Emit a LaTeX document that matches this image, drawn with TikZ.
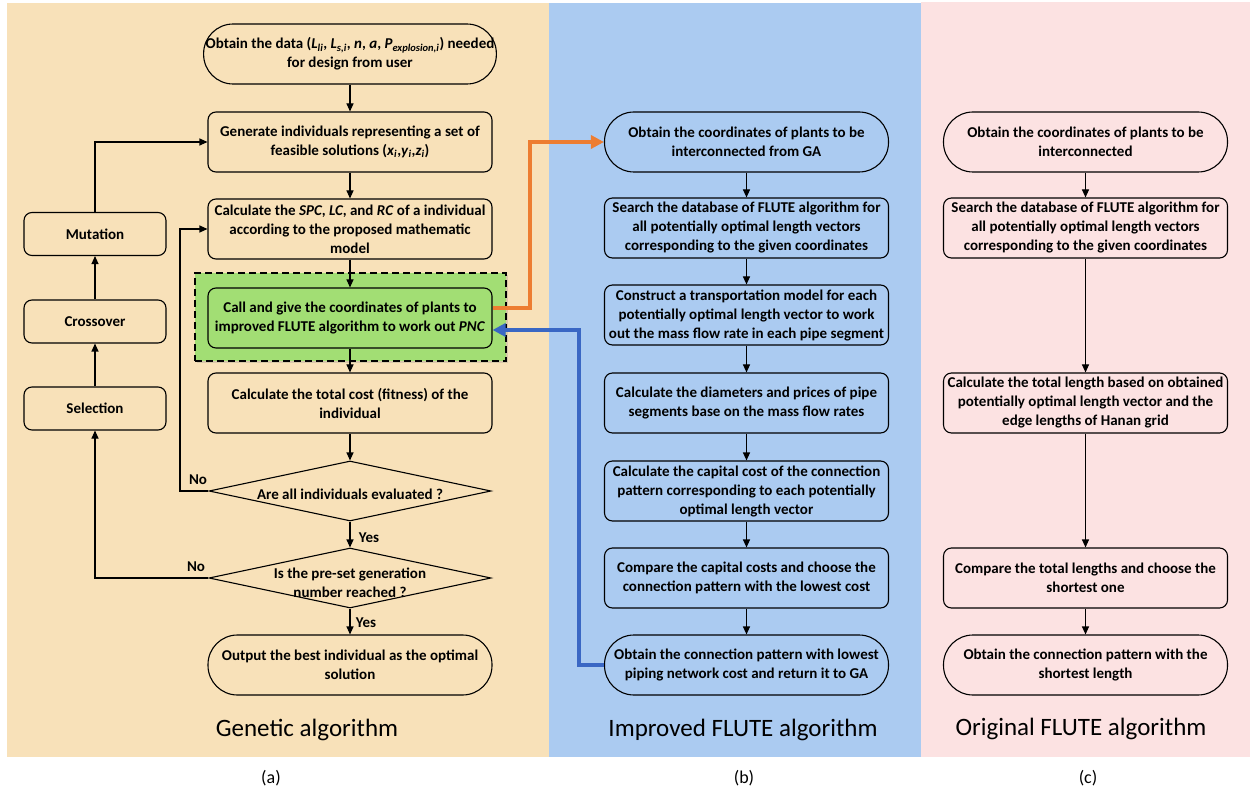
\documentclass[tikz,border=0pt]{standalone}
\usepackage{fontspec}
\setmainfont{Carlito}
\usetikzlibrary{arrows.meta,shapes.geometric,shadows}

\definecolor{gabg}{HTML}{F8E1B9}
\definecolor{impbg}{HTML}{ABCBF1}
\definecolor{orgbg}{HTML}{FCE2E2}
\definecolor{callgreen}{HTML}{A2DE74}
\definecolor{linkorange}{HTML}{ED7D31}
\definecolor{linkblue}{HTML}{3A67C4}

\newcommand\boxfont{\fontsize{15}{19}\selectfont\bfseries}
\newcommand\lowidx[1]{\textsubscript{\itshape #1}}

\tikzset{
  flow/.style={draw=black, line width=1.1pt, align=center, font=\boxfont, inner sep=2pt},
  stepbox/.style={flow, rectangle, rounded corners=8pt, minimum width=284pt, minimum height=60pt},
  termbox/.style={flow, rectangle, rounded corners=29.5pt, minimum width=284pt, minimum height=60pt},
  gabox/.style={flow, rectangle, rounded corners=8pt, minimum width=142pt, minimum height=43pt},
  test/.style={draw=black, line width=1.1pt, diamond, minimum width=282pt, minimum height=60pt, inner sep=0pt},
  plain/.style={align=center, font=\boxfont, inner sep=0pt},
  arr/.style={line width=1.1pt, -{Triangle[length=8pt,width=7pt]}},
  link/.style={line width=4pt, -{Triangle[length=13pt,width=13pt]}},
  paneltitle/.style={font=\fontsize{25}{29}\selectfont},
  caption/.style={font=\fontsize{18}{21}\selectfont},
}

\begin{document}
\begin{tikzpicture}[x=1pt,y=-1pt]
\useasboundingbox (0,0) rectangle (1250,791);
\fill[white] (0,0) rectangle (1250,791);

% panel backgrounds
\fill[gabg] (7,3) rectangle (549,757);
\fill[impbg] (549,3) rectangle (921,757);
\fill[orgbg] (921,2) rectangle (1250,757);

% ---------- (a) genetic algorithm ----------
\node[termbox] (a1) at (350,54) {Obtain the data (\textit{L}\lowidx{li}, \textit{L}\lowidx{s,i}, \textit{n}, \textit{a}, \textit{P}\lowidx{explosion,i}) needed\\for design from user};
\node[stepbox] (a2) at (350,142) {Generate individuals representing a set of\\feasible solutions (\textit{x}\lowidx{i},\textit{y}\lowidx{i},\textit{z}\lowidx{i})};
\node[stepbox] (a3) at (350,229) {Calculate the \textit{SPC}, \textit{LC}, and \textit{RC} of a individual\\according to the proposed mathematic\\model};
\node[draw=black, line width=1.1pt, dash pattern=on 7pt off 4pt, fill=callgreen,
      drop shadow={opacity=0.25, shadow xshift=2pt, shadow yshift=-2pt},
      minimum width=311pt, minimum height=88pt, inner sep=0pt] (callframe) at (350.5,317) {};
\node[stepbox, fill=callgreen] (a4) at (350,318) {Call and give the coordinates of plants to\\improved FLUTE algorithm to work out \textit{PNC}};
\node[stepbox] (a5) at (350,403) {Calculate the total cost (fitness) of the\\individual};
\node[test] (d1) at (350,491) {};
\node[plain] (d1t) at (350,494) {Are all individuals evaluated ?};
\node[test] (d2) at (350,578) {};
\node[plain] (d2t) at (350,583) {Is the pre-set generation\\number reached ?};
\node[termbox] (a6) at (350,665) {Output the best individual as the optimal\\solution};

\node[gabox] (sel) at (95,408.5) {Selection};
\node[gabox] (cro) at (95,321.5) {Crossover};
\node[gabox] (mut) at (95,234) {Mutation};

\draw[arr] (a1) -- (a2);
\draw[arr] (a2) -- (a3);
\draw[arr] (a3) -- (a4);
\draw[arr] (a4) -- (a5);
\draw[arr] (a5) -- (d1);
\draw[arr] (d1) -- (d2);
\draw[arr] (d2) -- (a6);
\coordinate (noloop) at (180,491);
\draw[arr] (d1.west) -- (noloop) |- (a3.west);
\coordinate (nogen) at (95,578);
\draw[arr] (d2.west) -- (nogen) -- (sel.south);
\draw[arr] (sel) -- (cro);
\draw[arr] (cro) -- (mut);
\draw[arr] (mut.north) |- (a2.west);

\node[plain] (yes1) at (369,538) {Yes};
\node[plain] (yes2) at (366,623) {Yes};
\node[plain] (no1) at (198,480) {No};
\node[plain] (no2) at (196,567) {No};

% ---------- (b) improved FLUTE ----------
\node[termbox] (b1) at (746.5,142) {Obtain the coordinates of plants to be\\interconnected from GA};
\node[stepbox] (b2) at (746.5,228) {Search the database of FLUTE algorithm for\\all potentially optimal length vectors\\corresponding to the given coordinates};
\node[stepbox] (b3) at (746.5,315) {Construct a transportation model for each\\potentially optimal length vector to work\\out the mass flow rate in each pipe segment};
\node[stepbox] (b4) at (746.5,403) {Calculate the diameters and prices of pipe\\segments base on the mass flow rates};
\node[stepbox] (b5) at (746.5,491) {Calculate the capital cost of the connection\\pattern corresponding to each potentially\\optimal length vector};
\node[stepbox] (b6) at (746.5,578) {Compare the capital costs and choose the\\connection pattern with the lowest cost};
\node[termbox] (b7) at (746.5,665) {Obtain the connection pattern with lowest\\piping network cost and return it to GA};
\draw[arr] (b1) -- (b2);
\draw[arr] (b2) -- (b3);
\draw[arr] (b3) -- (b4);
\draw[arr] (b4) -- (b5);
\draw[arr] (b5) -- (b6);
\draw[arr] (b6) -- (b7);

% links between the GA and the improved FLUTE algorithm
\coordinate (callout) at ([yshift=10pt]a4.east);
\coordinate (callin) at ([yshift=-12pt]a4.east);
\coordinate (orx) at (530,142);
\coordinate (blx) at (579,665);
\draw[link, linkorange] (callout) -- (callout -| orx) |- (b1.west);
\draw[link, linkblue] (b7.west) -- (blx) |- (callin);

% ---------- (c) original FLUTE ----------
\node[termbox] (c1) at (1085.5,142) {Obtain the coordinates of plants to be\\interconnected};
\node[stepbox] (c2) at (1085.5,228) {Search the database of FLUTE algorithm for\\all potentially optimal length vectors\\corresponding to the given coordinates};
\node[stepbox] (c3) at (1085.5,403) {Calculate the total length based on obtained\\potentially optimal length vector and the\\edge lengths of Hanan grid};
\node[stepbox] (c4) at (1085.5,578) {Compare the total lengths and choose the\\shortest one};
\node[termbox] (c5) at (1085.5,665) {Obtain the connection pattern with the\\shortest length};
\draw[arr] (c1) -- (c2);
\draw[arr] (c2) -- (c3);
\draw[arr] (c3) -- (c4);
\draw[arr] (c4) -- (c5);

% panel titles and captions
\node[paneltitle] (ta) at (307,730) {Genetic algorithm};
\node[paneltitle] (tb) at (743,730) {Improved FLUTE algorithm};
\node[paneltitle] (tc) at (1081,729) {Original FLUTE algorithm};
\node[caption] (ca) at (271,778) {(a)};
\node[caption] (cb) at (744,778) {(b)};
\node[caption] (cc) at (1088,778) {(c)};
\end{tikzpicture}
\end{document}
